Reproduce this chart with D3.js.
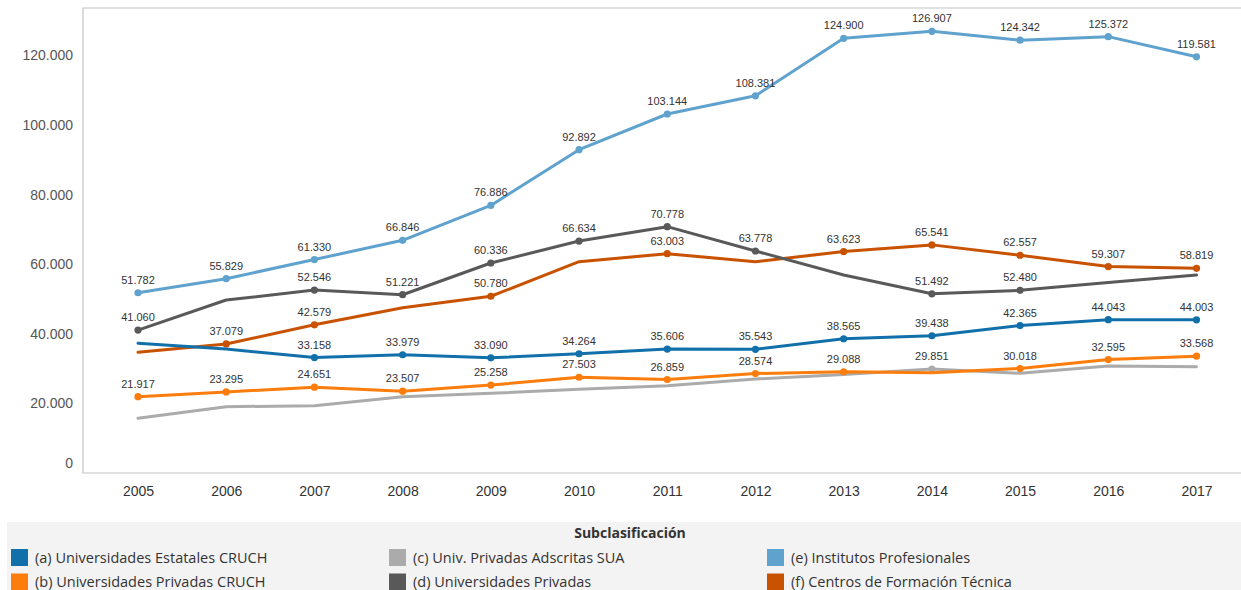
<!DOCTYPE html>
<html>
<head>
<meta charset="utf-8">
<script src="https://cdn.jsdelivr.net/npm/d3@7"></script>
<style>
  body { margin: 0; background: #fff; }
  svg { display: block; font-family: "Liberation Sans", Arial, sans-serif; }
</style>
</head>
<body>
<div id="chart"></div>
<script>
// Years on the x axis
const years = [2005, 2006, 2007, 2008, 2009, 2010, 2011, 2012, 2013, 2014, 2015, 2016, 2017];

// Series names (legend order)
const seriesNames = [
  "(a) Universidades Estatales CRUCH",
  "(b) Universidades Privadas CRUCH",
  "(c) Univ. Privadas Adscritas SUA",
  "(d) Universidades Privadas",
  "(e) Institutos Profesionales",
  "(f) Centros de Formación Técnica"
];
const seriesColors = ["#1170aa", "#fc7d0b", "#ababab", "#595959", "#5fa2ce", "#c85200"];

// Values per series (unlabelled points)
const valuesA = [37270, 35630, 33158, 33979, 33090, 34264, 35606, 35543, 38565, 39438, 42365, 44043, 44003];
const valuesB = [21917, 23295, 24651, 23507, 25258, 27503, 26859, 28574, 29088, 28820, 30018, 32595, 33568];
const valuesC = [15720, 19050, 19340, 21930, 22900, 24050, 25090, 27010, 28300, 29851, 28650, 30750, 30550];
const valuesD = [41060, 49700, 52546, 51221, 60336, 66634, 70778, 63778, 56900, 51492, 52480, 54700, 56900];
const valuesE = [51782, 55829, 61330, 66846, 76886, 92892, 103144, 108381, 124900, 126907, 124342, 125372, 119581];
const valuesF = [34680, 37079, 42579, 47500, 50780, 60720, 63003, 60720, 63623, 65541, 62557, 59307, 58819];

// Which points carry a mark label (1 = labelled)
const labelsA = [0, 0, 1, 1, 1, 1, 1, 1, 1, 1, 1, 1, 1];
const labelsB = [1, 1, 1, 1, 1, 1, 1, 1, 1, 0, 1, 1, 1];
const labelsC = [0, 0, 0, 0, 0, 0, 0, 0, 0, 1, 0, 0, 0];
const labelsD = [1, 0, 1, 1, 1, 1, 1, 1, 0, 1, 1, 0, 0];
const labelsE = [1, 1, 1, 1, 1, 1, 1, 1, 1, 1, 1, 1, 1];
const labelsF = [0, 1, 1, 0, 1, 0, 1, 0, 1, 1, 1, 1, 1];

// Y tick values
const yTicks = [0, 20000, 40000, 60000, 80000, 100000, 120000];

const allValues = [valuesA, valuesB, valuesC, valuesD, valuesE, valuesF];
const allLabels = [labelsA, labelsB, labelsC, labelsD, labelsE, labelsF];

const series = seriesNames.map(function(name, k) {
  return {
    name: name,
    color: seriesColors[k],
    values: years.map(function(y, i) {
      return { year: y, value: allValues[k][i], label: allLabels[k][i] === 1 };
    })
  };
});

const width = 1241, height = 590;
const plot = { left: 83, top: 8, right: 1241, bottom: 473 };

const svg = d3.select("#chart").append("svg")
  .attr("width", width)
  .attr("height", height);

// Scales
const xScale = d3.scalePoint()
  .domain(years)
  .range([138, 1196.5]);
const yScale = d3.scaleLinear()
  .domain([0, 133600])
  .range([plot.bottom, plot.top]);

// Thousands with a dot, as in the source
const fmt = d3.formatLocale({ decimal: ",", thousands: ".", grouping: [3], currency: ["$", ""] }).format(",d");

// Frame
svg.append("path")
  .attr("d", "M" + plot.right + "," + plot.top + "H" + plot.left + "V" + plot.bottom + "H" + plot.right)
  .attr("fill", "none")
  .attr("stroke", "#c4c4c4")
  .attr("stroke-width", 1.2);

// Y axis
const yAxis = svg.append("g")
  .attr("transform", "translate(" + plot.left + ",0)")
  .call(d3.axisLeft(yScale).tickValues(yTicks).tickSize(0).tickPadding(10).tickFormat(fmt));
yAxis.select(".domain").remove();
yAxis.selectAll("text")
  .attr("font-size", 14)
  .attr("fill", "#555")
  .attr("font-family", "'Liberation Sans', Arial, sans-serif")
  .attr("dy", function(d) { return d === 0 ? "-0.4em" : "0.32em"; });

// X axis
const xAxis = svg.append("g")
  .attr("transform", "translate(0," + plot.bottom + ")")
  .call(d3.axisBottom(xScale).tickSize(0).tickPadding(13).tickFormat(d3.format("d")));
xAxis.select(".domain").remove();
xAxis.selectAll("text")
  .attr("font-size", 14)
  .attr("fill", "#333")
  .attr("font-family", "'Liberation Sans', Arial, sans-serif");

// Lines
const line = d3.line()
  .x(function(d) { return xScale(d.year); })
  .y(function(d) { return yScale(d.value); });

const drawOrder = [2, 1, 5, 0, 3, 4];
const groups = svg.selectAll(".series")
  .data(drawOrder.map(function(k) { return series[k]; }))
  .enter().append("g")
  .attr("class", "series");

groups.append("path")
  .attr("d", function(d) { return line(d.values); })
  .attr("fill", "none")
  .attr("stroke", function(d) { return d.color; })
  .attr("stroke-width", 3)
  .attr("stroke-linejoin", "round")
  .attr("stroke-linecap", "round");

groups.selectAll("circle")
  .data(function(d) { return d.values.filter(function(v) { return v.label; }).map(function(v) { return { v: v, color: d.color }; }); })
  .enter().append("circle")
  .attr("cx", function(d) { return xScale(d.v.year); })
  .attr("cy", function(d) { return yScale(d.v.value); })
  .attr("r", 3.6)
  .attr("fill", function(d) { return d.color; });

// Mark labels
const labelData = [];
series.forEach(function(s) {
  s.values.forEach(function(v) { if (v.label) labelData.push(v); });
});
svg.selectAll(".mark-label")
  .data(labelData)
  .enter().append("text")
  .attr("class", "mark-label")
  .attr("x", function(d) { return xScale(d.year); })
  .attr("y", function(d) { return yScale(d.value) - 9; })
  .attr("text-anchor", "middle")
  .attr("font-size", 11)
  .attr("fill", "#333")
  .text(function(d) { return fmt(d.value); });

// Legend
const legend = svg.append("g");
legend.append("rect")
  .attr("x", 7).attr("y", 522)
  .attr("width", width - 7).attr("height", height - 522)
  .attr("fill", "#f3f3f3");
legend.append("text")
  .attr("x", 630).attr("y", 538)
  .attr("text-anchor", "middle")
  .attr("font-size", 14)
  .attr("font-weight", "bold")
  .attr("fill", "#333")
  .attr("font-family", "'Open Sans', sans-serif")
  .text("Subclasificación");

const items = legend.selectAll(".legend-item")
  .data(series)
  .enter().append("g")
  .attr("class", "legend-item")
  .attr("transform", function(d, i) {
    return "translate(" + (11 + Math.floor(i / 2) * 378) + "," + (549 + (i % 2) * 24.5) + ")";
  });
items.append("rect")
  .attr("width", 17).attr("height", 17)
  .attr("fill", function(d) { return d.color; });
items.append("text")
  .attr("x", 24).attr("y", 13.5)
  .attr("font-size", 14.5)
  .attr("fill", "#333")
  .attr("font-family", "'Open Sans', sans-serif")
  .text(function(d) { return d.name; });
</script>
</body>
</html>
